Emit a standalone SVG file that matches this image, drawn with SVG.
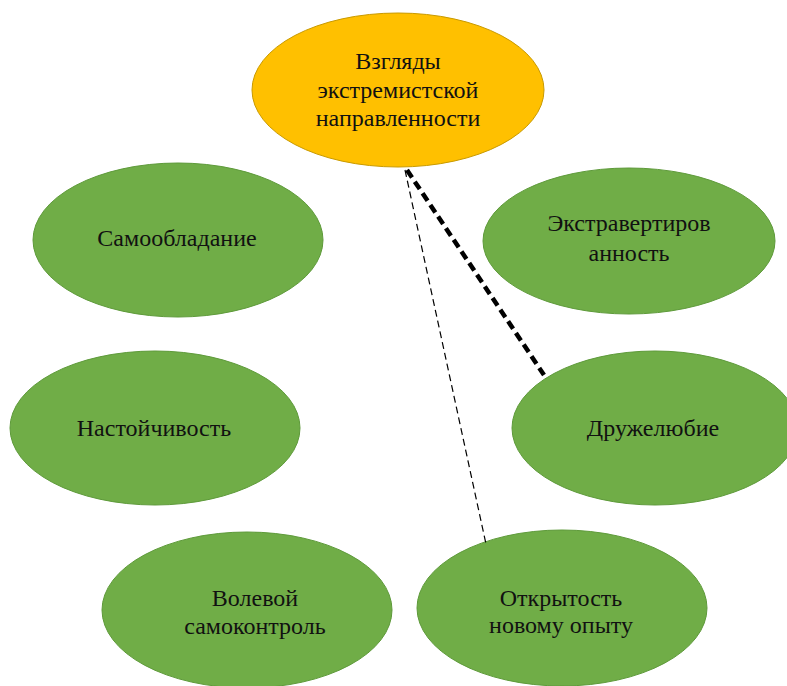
<svg xmlns="http://www.w3.org/2000/svg" width="787" height="686" viewBox="0 0 787 686">
<style>
.g{fill:#70AD47;stroke:#5E9A3A;stroke-width:1}
.o{fill:#FFC000;stroke:#C99A00;stroke-width:1}
text{font-family:"Liberation Serif","Times New Roman",serif;font-size:24px;fill:#111;text-anchor:middle}
</style>
<rect width="787" height="686" fill="#fff"/>
<g id="n-samoobladanie"><ellipse class="g" cx="178" cy="240" rx="145" ry="77"/><text x="177" y="246">Самообладание</text></g>
<g id="n-ekstra"><ellipse class="g" cx="629" cy="241" rx="146" ry="73"/><text x="629" y="231">Экстравертиров</text><text x="629" y="261">анность</text></g>
<g id="n-nastoich"><ellipse class="g" cx="155" cy="428" rx="145" ry="77"/><text x="154" y="436">Настойчивость</text></g>
<g id="n-druzh"><ellipse class="g" cx="655" cy="428" rx="143" ry="77"/><text x="653" y="436">Дружелюбие</text></g>
<g id="n-volevoy"><ellipse class="g" cx="247" cy="610" rx="145" ry="78"/><text x="255" y="606">Волевой</text><text x="255" y="634">самоконтроль</text></g>
<g id="n-otkryt"><ellipse class="g" cx="562" cy="608" rx="145" ry="78"/><text x="561" y="606">Открытость</text><text x="561" y="633">новому опыту</text></g>
<g id="connectors">
<line x1="407" y1="170" x2="544" y2="375" stroke="#000" stroke-width="4.5" stroke-dasharray="9,5"/>
<line x1="405" y1="170" x2="486" y2="544" stroke="#000" stroke-width="1.2" stroke-dasharray="7,4"/>
</g>
<g id="n-top"><ellipse class="o" cx="398" cy="90" rx="146" ry="77"/><text x="398" y="69">Взгляды</text><text x="398" y="98">экстремистской</text><text x="398" y="126">направленности</text></g>
</svg>
